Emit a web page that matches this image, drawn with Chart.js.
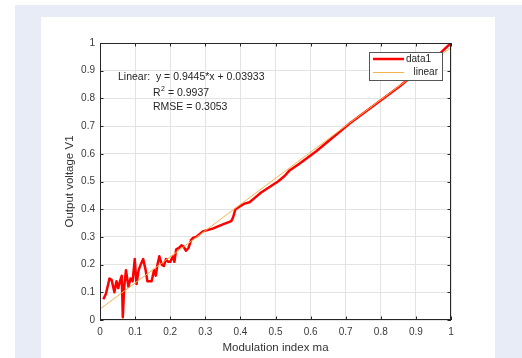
<!DOCTYPE html>
<html>
<head>
<meta charset="utf-8">
<script src="https://cdn.jsdelivr.net/npm/chart.js@4"></script>
<style>
  html, body { margin: 0; padding: 0; background: #ffffff; }
  #wrap { width: 522px; height: 358px; }
</style>
</head>
<body>
<div id="wrap"><canvas id="grafico" width="522" height="358"></canvas></div>
<script>
/*******************************************************************************/
// Datos

const maValues = [0.0095, 0.017, 0.027, 0.033, 0.041, 0.047, 0.052, 0.057, 0.062, 0.065,
    0.069, 0.074, 0.081, 0.087, 0.093, 0.099, 0.104, 0.110, 0.116, 0.123,
    0.130, 0.135, 0.147, 0.154, 0.159, 0.163, 0.169, 0.176, 0.182, 0.188,
    0.194, 0.200, 0.208, 0.212, 0.217, 0.225, 0.232, 0.238, 0.245, 0.252,
    0.260, 0.266, 0.274, 0.293, 0.321, 0.350, 0.374, 0.379, 0.386, 0.398,
    0.412, 0.426, 0.440, 0.459, 0.483, 0.507, 0.526, 0.540, 0.569, 0.617,
    0.664, 0.712, 0.760, 0.807, 0.855, 0.902, 0.950, 1.000];
const v1Values = [0.075, 0.095, 0.150, 0.145, 0.100, 0.140, 0.115, 0.140, 0.160, 0.010,
    0.120, 0.180, 0.120, 0.150, 0.140, 0.220, 0.130, 0.180, 0.200, 0.220,
    0.180, 0.140, 0.140, 0.180, 0.160, 0.195, 0.230, 0.200, 0.195, 0.220,
    0.210, 0.210, 0.230, 0.210, 0.255, 0.260, 0.270, 0.265, 0.250, 0.260,
    0.290, 0.297, 0.300, 0.320, 0.330, 0.345, 0.357, 0.370, 0.400, 0.410,
    0.420, 0.425, 0.440, 0.460, 0.480, 0.500, 0.520, 0.540, 0.565, 0.610,
    0.660, 0.710, 0.755, 0.800, 0.845, 0.895, 0.940, 1.000];

// Recta de ajuste (extremos)
const fitX = [0, 1];
const fitY = [0.0393, 0.9838];

const xTicks = [0, 0.1, 0.2, 0.3, 0.4, 0.5, 0.6, 0.7, 0.8, 0.9, 1];
const yTicks = [0, 0.1, 0.2, 0.3, 0.4, 0.5, 0.6, 0.7, 0.8, 0.9, 1];

const fitLines = ["Linear:  y = 0.9445*x + 0.03933", "R² = 0.9937", "RMSE = 0.3053"];
const legendLabels = ["data1", "linear"];

/*******************************************************************************/
// Colores

const rojo = "#ff0000";
const naranja = "#f2b64a";
const gris = "#262626";
const fuente = "'Liberation Sans', Arial, sans-serif";

/*******************************************************************************/
// Plugins

const fondo = {
    id: "fondo",
    beforeDraw(chart) {
        const ctx = chart.ctx;
        ctx.save();
        ctx.fillStyle = "#ffffff";
        ctx.fillRect(0, 0, chart.width, chart.height);
        ctx.fillStyle = "#e8ecf6";
        ctx.fillRect(15, 5, chart.width - 15, chart.height - 5);
        ctx.fillStyle = "#ffffff";
        ctx.fillRect(41, 17, 454, chart.height - 17);
        ctx.restore();
    }
};

const marco = {
    id: "marco",
    afterDatasetsDraw(chart) {
        const ctx = chart.ctx;
        const a = chart.chartArea;
        const xs = chart.scales.x;
        const ys = chart.scales.y;
        ctx.save();
        ctx.strokeStyle = gris;
        ctx.lineWidth = 1;
        ctx.strokeRect(a.left + 0.5, a.top + 0.5, a.right - a.left - 1, a.bottom - a.top - 1);
        // marcas hacia dentro
        const largo = 3.5;
        ctx.beginPath();
        xTicks.forEach((t) => {
            const px = Math.round(xs.getPixelForValue(t)) + 0.5;
            ctx.moveTo(px, a.bottom);
            ctx.lineTo(px, a.bottom - largo);
            ctx.moveTo(px, a.top);
            ctx.lineTo(px, a.top + largo);
        });
        yTicks.forEach((t) => {
            const py = Math.round(ys.getPixelForValue(t)) + 0.5;
            ctx.moveTo(a.left, py);
            ctx.lineTo(a.left + largo, py);
            ctx.moveTo(a.right, py);
            ctx.lineTo(a.right - largo, py);
        });
        ctx.stroke();

        // texto del ajuste
        ctx.fillStyle = gris;
        ctx.font = "10.5px " + fuente;
        ctx.textBaseline = "middle";
        ctx.textAlign = "left";
        ctx.fillText(fitLines[0], 118, 77);
        ctx.fillText("R", 153, 93);
        const wR = ctx.measureText("R").width;
        ctx.font = "7px " + fuente;
        ctx.fillText("2", 153 + wR + 0.5, 89);
        const w2 = ctx.measureText("2").width;
        ctx.font = "10.5px " + fuente;
        ctx.fillText(fitLines[1].slice(2), 153 + wR + w2 + 0.5, 93);
        ctx.fillText(fitLines[2], 153, 107);

        // leyenda
        ctx.fillStyle = "#ffffff";
        ctx.fillRect(369, 52, 73, 28);
        ctx.strokeStyle = "#555555";
        ctx.strokeRect(369.5, 52.5, 73, 28);
        ctx.lineWidth = 2.5;
        ctx.strokeStyle = rojo;
        ctx.beginPath();
        ctx.moveTo(373, 59);
        ctx.lineTo(404, 59);
        ctx.stroke();
        ctx.lineWidth = 1;
        ctx.strokeStyle = naranja;
        ctx.beginPath();
        ctx.moveTo(373, 72.5);
        ctx.lineTo(404, 72.5);
        ctx.stroke();
        ctx.fillStyle = gris;
        ctx.font = "10px " + fuente;
        ctx.textAlign = "left";
        ctx.fillText(legendLabels[0], 406, 59.5);
        ctx.textAlign = "right";
        ctx.fillText(legendLabels[1], 438, 72.5);
        ctx.restore();
    }
};

/*******************************************************************************/
// Grafico

function crearGrafico() {
    const ctx = document.getElementById("grafico").getContext("2d");
    const puntos = maValues.map((x, i) => ({ x: x, y: v1Values[i] }));
    const recta = fitX.map((x, i) => ({ x: x, y: fitY[i] }));

    new Chart(ctx, {
        type: "line",
        data: {
            datasets: [{
                label: legendLabels[1],
                data: recta,
                borderColor: naranja,
                borderWidth: 1,
                pointRadius: 0,
                tension: 0
            }, {
                label: legendLabels[0],
                data: puntos,
                borderColor: rojo,
                borderWidth: 2.5,
                pointRadius: 0,
                tension: 0,
                borderJoinStyle: "round"
            }]
        },
        options: {
            responsive: false,
            animation: false,
            devicePixelRatio: 1,
            layout: { padding: { left: 58, top: 43, right: 71, bottom: 0 } },
            plugins: {
                legend: { display: false },
                tooltip: { enabled: false }
            },
            scales: {
                x: {
                    type: "linear",
                    min: 0,
                    max: 1,
                    afterFit: (s) => { s.height = 38; },
                    afterBuildTicks: (s) => { s.ticks = xTicks.map((v) => ({ value: v })); },
                    grid: { color: "#e3e3e3", drawTicks: false },
                    border: { display: false },
                    ticks: {
                        padding: 6,
                        color: "#3a3a3a",
                        font: { family: fuente, size: 10 },
                        maxRotation: 0,
                        callback: (v) => String(v)
                    },
                    title: {
                        display: true,
                        text: "Modulation index ma",
                        color: "#333333",
                        font: { family: fuente, size: 11.5 },
                        padding: { top: 0, bottom: 3 }
                    }
                },
                y: {
                    type: "linear",
                    min: 0,
                    max: 1,
                    afterFit: (s) => { s.width = 42; },
                    afterBuildTicks: (s) => { s.ticks = yTicks.map((v) => ({ value: v })); },
                    grid: { color: "#e3e3e3", drawTicks: false },
                    border: { display: false },
                    ticks: {
                        padding: 5,
                        color: "#3a3a3a",
                        font: { family: fuente, size: 10 },
                        callback: (v) => String(v)
                    },
                    title: {
                        display: true,
                        text: "Output voltage V1",
                        color: "#333333",
                        font: { family: fuente, size: 11.5 },
                        padding: { top: 5, bottom: 0 }
                    }
                }
            }
        },
        plugins: [fondo, marco]
    });
}

crearGrafico();
</script>
</body>
</html>
